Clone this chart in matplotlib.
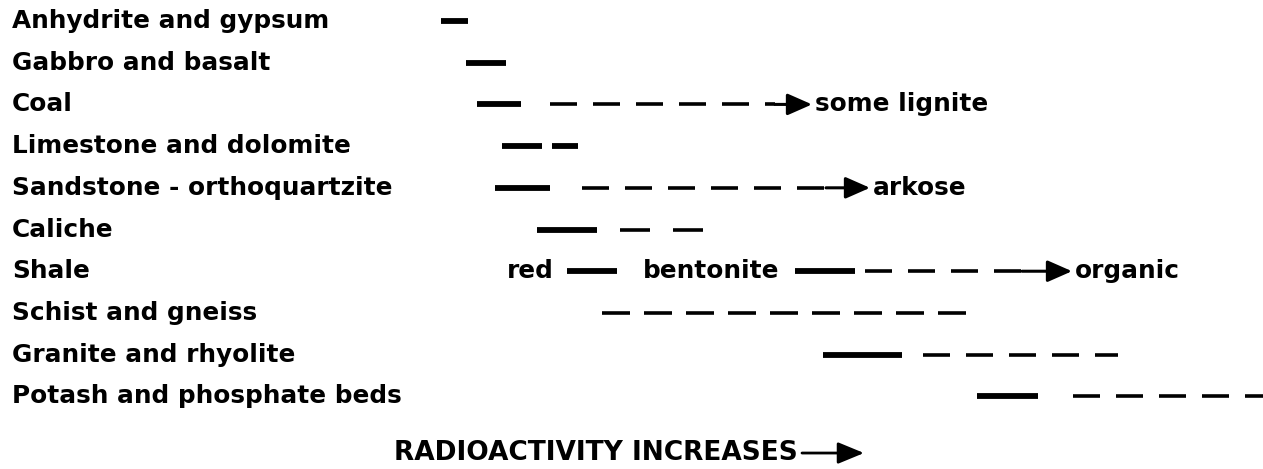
#!/usr/bin/env python3
"""Relative radioactivity of common rock types (redrawn from a scanned figure)."""

import matplotlib
matplotlib.use("Agg")
import matplotlib.pyplot as plt

# rock types, top to bottom
ROCKS = [
    "Anhydrite and gypsum",
    "Gabbro and basalt",
    "Coal",
    "Limestone and dolomite",
    "Sandstone - orthoquartzite",
    "Caliche",
    "Shale",
    "Schist and gneiss",
    "Granite and rhyolite",
    "Potash and phosphate beds",
]

# radioactivity ranges (arbitrary units along the bottom arrow)
SOLID_RANGES = [
    [(441, 468)],
    [(466, 506)],
    [(477, 521)],
    [(502, 542), (552, 578)],
    [(495, 550)],
    [(537, 597)],
    [(567, 617), (795, 855)],
    [],
    [(823, 902)],
    [(977, 1038)],
]
DASHED_RANGES = [
    [],
    [],
    [(550, 775)],
    [],
    [(582, 826)],
    [(620, 707)],
    [(865, 1022)],
    [(602, 966)],
    [(923, 1118)],
    [(1073, 1263)],
]
# open-ended ranges: (row, arrow start, arrow tip, label)
ARROW_ROWS = [2, 4, 6]
ARROW_FROM = [775, 826, 1022]
ARROW_TO = [812, 870, 1072]
ARROW_LABELS = ["some lignite", "arkose", "organic"]
# inline words on the shale row
INLINE_X = [507, 643]
INLINE_LABELS = ["red", "bentonite"]

AXIS_LABEL = "RADIOACTIVITY INCREASES"
AXIS_ARROW = (802, 864)

PX = 0.72  # points per pixel at dpi 100
DASH_PX = {5: (30, 23), 7: (28, 14)}  # per-row dash (on, off) exceptions
DEFAULT_DASH_PX = (27, 16)

plt.rcParams["lines.scale_dashes"] = False
FONT = dict(family="DejaVu Sans", fontweight="bold", fontsize=17.8, color="black")


def main():
    fig = plt.figure(figsize=(12.63, 4.69), dpi=100)
    ax = fig.add_axes([0, 0, 1, 1])
    ax.set_xlim(0, 1263)
    ax.set_ylim(10.743, -0.504)
    ax.axis("off")

    for i, name in enumerate(ROCKS):
        ax.text(12, i, name, ha="left", va="center", **FONT)

        for x0, x1 in SOLID_RANGES[i]:
            ax.plot([x0, x1], [i, i], color="black", linewidth=4.2,
                    solid_capstyle="butt")

        on, off = DASH_PX.get(i, DEFAULT_DASH_PX)
        for x0, x1 in DASHED_RANGES[i]:
            ax.plot([x0, x1], [i, i], color="black", linewidth=2.6,
                    dashes=(on * PX, off * PX), dash_capstyle="butt")

    for row, x0, x1, lab in zip(ARROW_ROWS, ARROW_FROM, ARROW_TO, ARROW_LABELS):
        ax.annotate("", xy=(x1, row), xytext=(x0, row),
                    arrowprops=dict(arrowstyle="-|>,head_length=0.75,head_width=0.33",
                                    mutation_scale=20, color="black", lw=2.2,
                                    shrinkA=0, shrinkB=0))
        ax.text(x1 + 3, row, lab, ha="left", va="center", **FONT)

    for x, lab in zip(INLINE_X, INLINE_LABELS):
        ax.text(x, 6, lab, ha="left", va="center", **FONT)

    y_axis = 10.36
    ax.text(AXIS_ARROW[0] - 4, y_axis, AXIS_LABEL, ha="right", va="center",
            **{**FONT, "fontsize": 19})
    ax.annotate("", xy=(AXIS_ARROW[1], y_axis), xytext=(AXIS_ARROW[0], y_axis),
                arrowprops=dict(arrowstyle="-|>,head_length=0.8,head_width=0.33",
                                mutation_scale=20, color="black", lw=2.0,
                                shrinkA=0, shrinkB=0))

    fig.savefig("out.png", dpi=100, facecolor="white")
    plt.close(fig)


if __name__ == "__main__":
    main()
